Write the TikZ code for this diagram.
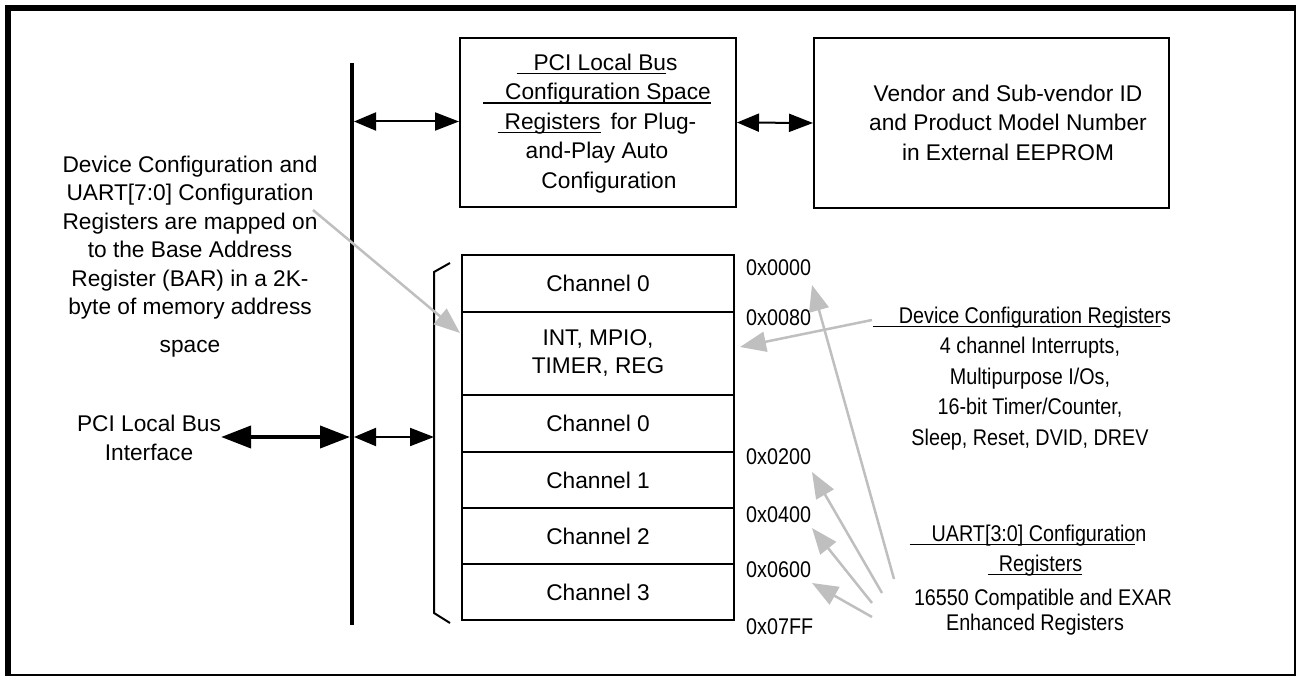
\documentclass[tikz,border=0pt]{standalone}
\usepackage{fontspec}
\setmainfont{Liberation Sans}
\newfontfamily\narrowf[FakeStretch=0.87]{Liberation Sans}
\usetikzlibrary{arrows.meta}
\definecolor{arrgray}{RGB}{191,191,191}
\newlength\ulw
\newcommand\myul[1]{\settowidth{\ulw}{#1}\rlap{\rule[-4pt]{\ulw}{1.6pt}}#1}
\begin{document}
\begin{tikzpicture}[x=1pt,y=-1pt,
  txtL/.style={font=\fontsize{22.7pt}{28.5pt}\selectfont, align=center, inner sep=0pt, anchor=north},
  txtR/.style={font=\narrowf\fontsize{22.7pt}{30.5pt}\selectfont, align=center, inner sep=0pt, anchor=north},
  box/.style={draw, line width=2pt, inner sep=0pt, anchor=north west},
  row/.style={draw, line width=2pt, minimum width=272pt, inner sep=0pt, anchor=north,
    font=\fontsize{22.7pt}{28pt}\selectfont, align=center},
  addr/.style={font=\narrowf\fontsize{22.7pt}{28pt}\selectfont, inner sep=0pt, anchor=west},
  blk/.style={line width=2pt, {Triangle[length=22pt,width=18pt]}-{Triangle[length=24pt,width=18pt]}},
  blkbig/.style={line width=4pt, {Triangle[length=30pt,width=22pt]}-{Triangle[length=30pt,width=22pt]}},
  gry/.style={color=arrgray, line width=2.5pt, -{Triangle[length=26pt,width=20pt]}}
]
\useasboundingbox (0,0) rectangle (1299,676);
% frame
\draw[line width=2pt] (8,8) rectangle (1295,675);
\draw[line width=6pt] (8,676) -- (8,8) -- (1296,8);

% top boxes
\node[box, minimum width=276pt, minimum height=169pt] (pcibox) at (459,37) {};
\node[box, minimum width=355pt, minimum height=170pt] (vendbox) at (813,37) {};
\node[txtL, font=\fontsize{22.7pt}{29.5pt}\selectfont] (pcitxt) at (597,53.5)
  {\myul{\hspace*{17pt}PCI Local Bu}s\\
   \myul{\hspace*{22pt}Configuration Space}\\
   \myul{\hspace*{7pt}Registers}\hspace*{10pt}for Plug-\\
   and-Play Auto\\
   \hspace*{24pt}Configuration};
\node[txtL, font=\fontsize{22.7pt}{29.5pt}\selectfont] (vendtxt) at (1008,84.5)
  {Vendor and Sub-vendor ID\\and Product Model Number\\in External EEPROM};

% bus
\coordinate (busT) at (352,63);
\coordinate (busB) at (352,625);
\draw[line width=4pt] (busT) -- (busB);
\coordinate (busP) at (354,121.5);
\coordinate (busI) at (350,437);
\coordinate (busJ) at (354,437);

% left texts
\node[txtL] (lefttxt) at (190,155.5)
  {Device Configuration and\\UART[7:0] Configuration\\Registers are mapped on\\to the Base Address\\Register (BAR) in a 2K-\\byte of memory address\\[9.5pt]space};
\node[txtL, font=\fontsize{22.7pt}{29pt}\selectfont] (pciif) at (149,414.5)
  {PCI Local Bus\\Interface};

% memory map rows
\node[row, minimum height=57pt] (r0) at (598,254) {Channel 0};
\node[row, minimum height=83pt] (r1) at (598,311) {INT, MPIO,\\TIMER, REG};
\node[row, minimum height=57pt] (r2) at (598,394) {Channel 0};
\node[row, minimum height=56pt] (r3) at (598,451) {Channel 1};
\node[row, minimum height=56pt] (r4) at (598,507) {Channel 2};
\node[row, minimum height=56pt] (r5) at (598,563) {Channel 3};

% bracket
\coordinate (bkT) at (450,263);
\coordinate (bkB) at (450,623);
\coordinate (brk) at (434,437);
\draw[line width=2pt] (bkT) -- (434,272) -- (434,613) -- (bkB);

% addresses
\node[addr] (a0) at (746,268) {0x0000};
\node[addr] (a1) at (746,318) {0x0080};
\node[addr] (a2) at (746,457) {0x0200};
\node[addr] (a3) at (746,515) {0x0400};
\node[addr] (a4) at (746,570) {0x0600};
\node[addr] (a5) at (746,627) {0x07FF};

% right texts
\node[txtR] (dcr) at (1030,306.5)
  {\myul{\hspace*{26pt}Device Configuration Register}s\hspace*{16pt}\\
   4 channel Interrupts,\\Multipurpose I/Os,\\16-bit Timer/Counter,\\Sleep, Reset, DVID, DREV};
\node[txtR, font=\narrowf\fontsize{22.7pt}{30pt}\selectfont] (uart) at (1035,524.5)
  {\myul{\hspace*{22pt}UART[3:0] Configuratio}n\hspace*{14pt}\\
   \myul{\hspace*{11pt}Registers}\hspace*{20pt}\\[4pt]
   \hspace*{16pt}16550 Compatible and EXAR\\[-5pt]
   Enhanced Registers};

% black arrows
\draw[blk] (busP) -- (busP -| pcibox.west);
\draw[blk] (pcibox.east) -- (vendbox.west);
\draw[blkbig] (pciif.east |- busI) -- (busI);
\draw[blk] (busJ) -- (brk);

% gray arrows
\coordinate (g1s) at (313,210);
\coordinate (g1e) at (460,333);
\coordinate (g2s) at (872,320);
\coordinate (g2e) at (740,347);
\coordinate (g3s) at (894,579);
\coordinate (g3e) at (812,285);
\coordinate (g4s) at (882,593);
\coordinate (g4e) at (812,472);
\coordinate (g5s) at (872,603);
\coordinate (g5e) at (812,528);
\coordinate (g6s) at (872,617);
\coordinate (g6e) at (812,583);
\draw[gry] (g1s) -- (g1e);
\draw[gry] (g2s) -- (g2e);
\draw[gry] (g3s) -- (g3e);
\draw[gry] (g4s) -- (g4e);
\draw[gry] (g5s) -- (g5e);
\draw[gry] (g6s) -- (g6e);
\end{tikzpicture}
\end{document}
